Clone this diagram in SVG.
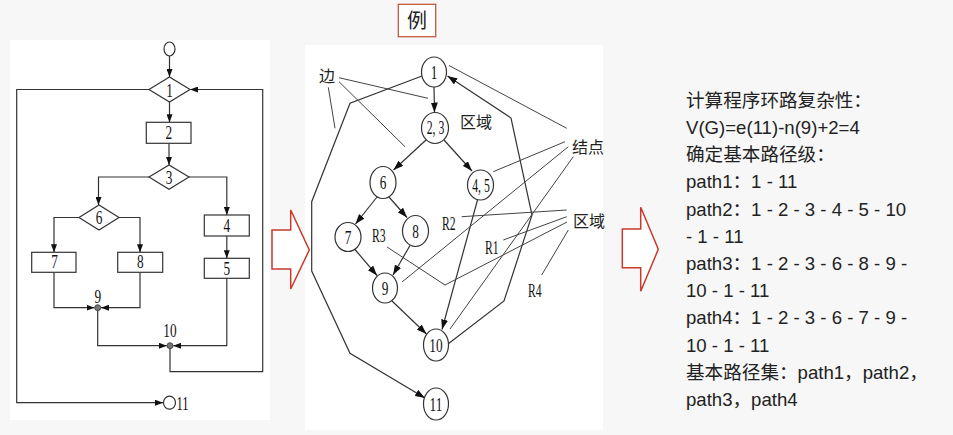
<svg xmlns="http://www.w3.org/2000/svg" width="953" height="435" viewBox="0 0 953 435">
<defs>
<style>
.bg{fill:#f7f7f7}
.panel{fill:#ffffff}
.ln{fill:none;stroke:#333;stroke-width:1.2}
.ptr{fill:none;stroke:#444;stroke-width:1}
.shp{fill:#fff;stroke:#333;stroke-width:1.2}
.dot{fill:#777;stroke:#333;stroke-width:0.8}
.lbl{font-family:"Liberation Serif",serif;font-size:19px;fill:#111;text-anchor:middle}
.lbs{font-family:"Liberation Serif",serif;font-size:18px;fill:#111}
.cjk{font-family:"Noto Sans CJK SC",sans-serif;font-size:16px;fill:#222}
.txt{font-family:"Liberation Sans","Noto Sans CJK SC",sans-serif;font-size:18.6px;fill:#222}
.red{fill:#fff;stroke:#c9392c;stroke-width:1.5}
</style>
<marker id="ah" viewBox="0 0 10 7" refX="10" refY="3.5" markerWidth="10" markerHeight="7" markerUnits="userSpaceOnUse" orient="auto">
<path d="M0,0 L10,3.5 L0,7 z" fill="#111"/>
</marker>
<marker id="as" viewBox="0 0 8 6" refX="8" refY="3" markerWidth="8" markerHeight="6" markerUnits="userSpaceOnUse" orient="auto">
<path d="M0,0 L8,3 L0,6 z" fill="#111"/>
</marker>
</defs>
<rect class="bg" x="0" y="0" width="953" height="435"/>
<rect class="panel" x="10" y="40" width="260" height="380"/>
<rect class="panel" x="305" y="45" width="298" height="385"/>

<!-- left flowchart connectors -->
<g id="flow-connectors">
<path class="ln" marker-end="url(#as)" d="M169.5,56 V77"/>
<path class="ln" marker-end="url(#as)" d="M169.5,102 V122.3"/>
<path class="ln" marker-end="url(#as)" d="M169,143.3 V165"/>
<path class="ln" marker-end="url(#as)" d="M149,177 H98.5 V205"/>
<path class="ln" marker-end="url(#as)" d="M189,177 H226.8 V215"/>
<path class="ln" marker-end="url(#as)" d="M79,217.5 H54 V252.3"/>
<path class="ln" marker-end="url(#as)" d="M119,217.5 H140 V252.3"/>
<path class="ln" marker-end="url(#as)" d="M226.8,236 V258.3"/>
<path class="ln" marker-end="url(#as)" d="M54,272.3 V307.7 H94.5"/>
<path class="ln" marker-end="url(#as)" d="M140,272.3 V307.7 H101"/>
<path class="ln" marker-end="url(#as)" d="M97.7,310.7 V345.7 H166.8"/>
<path class="ln" marker-end="url(#as)" d="M226.8,278.3 V345.7 H173.2"/>
<path class="ln" marker-end="url(#as)" d="M170,348.7 V371.7 H262.7 V89.5 H190"/>
<path class="ln" marker-end="url(#as)" d="M149,89.5 H16.7 V402.7 H163"/>
</g>

<!-- left flowchart nodes -->
<g id="f-start"><ellipse class="shp" cx="169.5" cy="49" rx="5.5" ry="7"/></g>
<g id="f-1"><polygon class="shp" points="149,89.5 169.5,77 190,89.5 169.5,102"/><text class="lbl" transform="translate(169.5,96.5) scale(0.7,1)">1</text></g>
<g id="f-2"><rect class="shp" x="146.3" y="122.3" width="44.7" height="21"/><text class="lbl" transform="translate(168.7,139) scale(0.7,1)">2</text></g>
<g id="f-3"><polygon class="shp" points="149,177 169,165 189,177 169,189.3"/><text class="lbl" transform="translate(169,184) scale(0.7,1)">3</text></g>
<g id="f-6"><polygon class="shp" points="79,217.5 99,205 119,217.5 99,230"/><text class="lbl" transform="translate(99,223.5) scale(0.7,1)">6</text></g>
<g id="f-7"><rect class="shp" x="31.7" y="252.3" width="44.3" height="20"/><text class="lbl" transform="translate(54.5,268.3) scale(0.7,1)">7</text></g>
<g id="f-8"><rect class="shp" x="117.7" y="252.3" width="45" height="20"/><text class="lbl" transform="translate(140.2,268.3) scale(0.7,1)">8</text></g>
<g id="f-4"><rect class="shp" x="204.3" y="215" width="45" height="21"/><text class="lbl" transform="translate(226.8,232) scale(0.7,1)">4</text></g>
<g id="f-5"><rect class="shp" x="204.3" y="258.3" width="45" height="20"/><text class="lbl" transform="translate(226.8,274.5) scale(0.7,1)">5</text></g>
<g id="f-9"><circle class="dot" cx="97.7" cy="307.7" r="3"/><text class="lbl" transform="translate(97.7,303) scale(0.7,1)">9</text></g>
<g id="f-10"><circle class="dot" cx="170" cy="345.7" r="3"/><text class="lbl" transform="translate(170,336.5) scale(0.7,1)">10</text></g>
<g id="f-11"><ellipse class="shp" cx="169.5" cy="402.7" rx="6" ry="6.5"/><text class="lbs" transform="translate(176.5,409.5) scale(0.7,1)">11</text></g>

<!-- red hollow arrows -->
<g id="arrow-a"><polygon class="red" points="272,230 290.7,230 290.7,210 309.3,250 290.7,289 290.7,269 272,269"/></g>
<g id="arrow-b"><polygon class="red" points="622.3,229 640.7,229 640.7,207.3 658.3,249.3 640.7,291.3 640.7,267.7 622.3,267.7"/></g>

<!-- title -->
<g id="title"><rect x="398.3" y="4.3" width="37.4" height="32.4" fill="#fff" stroke="#c55a3c" stroke-width="1.3"/><text class="cjk" x="417" y="28" text-anchor="middle" style="font-size:20px">例</text></g>

<!-- middle graph connectors -->
<g id="graph-connectors">
<path class="ln" marker-end="url(#ah)" d="M434,87 L434.5,112.5"/>
<path class="ln" marker-end="url(#ah)" d="M426,140 L393.5,170"/>
<path class="ln" marker-end="url(#ah)" d="M444,140 L472,171"/>
<path class="ln" marker-end="url(#ah)" d="M377,197 L355.5,224"/>
<path class="ln" marker-end="url(#ah)" d="M389,197 L407,217.5"/>
<path class="ln" marker-end="url(#ah)" d="M355,249.5 L377,275.5"/>
<path class="ln" marker-end="url(#ah)" d="M410,245.5 L393,275"/>
<path class="ln" marker-end="url(#ah)" d="M392,301 L426.5,334"/>
<path class="ln" marker-end="url(#ah)" d="M477.5,200 L442,329.5"/>
<path class="ln" marker-end="url(#ah)" d="M448,344 L504,301 L532,215 L511,118 L447.5,76"/>
<path class="ln" marker-end="url(#ah)" d="M422,76 L350,103.3 L311.7,201.7 L311.7,271 L350,353.3 L425,398"/>
</g>

<!-- annotation pointers -->
<g id="pointers">
<path class="ptr" d="M339,77.7 L428,98.3"/>
<path class="ptr" d="M339,81.7 L405,146.7"/>
<path class="ptr" d="M328.3,87.3 L335,128.3"/>
<path class="ptr" d="M566.7,128.3 L449,65.5"/>
<path class="ptr" d="M565,141.7 L493.3,171.7"/>
<path class="ptr" d="M568.3,146.7 L402,282"/>
<path class="ptr" d="M573.3,156.7 L450,329"/>
<path class="ptr" d="M566.7,210 L461.7,216.7"/>
<path class="ptr" d="M566.7,216.7 L503.3,240"/>
<path class="ptr" d="M567,222 L445,285 L387,247"/>
<path class="ptr" d="M568.3,230 L541.7,275"/>
</g>

<!-- middle graph nodes -->
<g id="g-1"><ellipse class="shp" cx="434" cy="72" rx="12.5" ry="15"/><text class="lbl" transform="translate(434,78.5) scale(0.7,1)">1</text></g>
<g id="g-23"><ellipse class="shp" cx="435" cy="128" rx="13.5" ry="15.5"/><text class="lbl" transform="translate(435.5,134) scale(0.62,1)">2, 3</text></g>
<g id="g-6"><ellipse class="shp" cx="383" cy="182.5" rx="13" ry="16"/><text class="lbl" transform="translate(383,189) scale(0.7,1)">6</text></g>
<g id="g-45"><ellipse class="shp" cx="480.5" cy="185" rx="13" ry="15"/><text class="lbl" transform="translate(481,191.5) scale(0.62,1)">4, 5</text></g>
<g id="g-7"><ellipse class="shp" cx="348" cy="237" rx="13" ry="14.5"/><text class="lbl" transform="translate(348,243.5) scale(0.7,1)">7</text></g>
<g id="g-8"><ellipse class="shp" cx="415.5" cy="231" rx="13" ry="15.5"/><text class="lbl" transform="translate(415.5,237.5) scale(0.7,1)">8</text></g>
<g id="g-9"><ellipse class="shp" cx="385" cy="288" rx="12.5" ry="15"/><text class="lbl" transform="translate(385,294.5) scale(0.7,1)">9</text></g>
<g id="g-10"><ellipse class="shp" cx="436" cy="345" rx="12.5" ry="16"/><text class="lbl" transform="translate(436,351.5) scale(0.7,1)">10</text></g>
<g id="g-11"><ellipse class="shp" cx="436" cy="404" rx="12.5" ry="16"/><text class="lbl" transform="translate(436,410.5) scale(0.7,1)">11</text></g>

<!-- middle annotations -->
<g id="annotations">
<text class="cjk" x="319" y="82">边</text>
<text class="cjk" x="460" y="128">区域</text>
<text class="cjk" x="572" y="153">结点</text>
<text class="cjk" x="573" y="227">区域</text>
<text class="lbs" transform="translate(372,242) scale(0.65,1)">R3</text>
<text class="lbs" transform="translate(442,230) scale(0.65,1)">R2</text>
<text class="lbs" transform="translate(485,254) scale(0.65,1)">R1</text>
<text class="lbs" transform="translate(528,296.5) scale(0.65,1)">R4</text>
</g>

<!-- right text -->
<g id="notes">
<text class="txt" x="686" y="106.7">计算程序环路复杂性：</text>
<text class="txt" x="686" y="133.9">V(G)=e(11)-n(9)+2=4</text>
<text class="txt" x="686" y="161.1">确定基本路径级：</text>
<text class="txt" x="686" y="188.3">path1：1 - 11</text>
<text class="txt" x="686" y="215.5">path2：1 - 2 - 3 - 4 - 5 - 10</text>
<text class="txt" x="686" y="242.7">- 1 - 11</text>
<text class="txt" x="686" y="269.9">path3：1 - 2 - 3 - 6 - 8 - 9 -</text>
<text class="txt" x="686" y="297.1">10 - 1 - 11</text>
<text class="txt" x="686" y="324.3">path4：1 - 2 - 3 - 6 - 7 - 9 -</text>
<text class="txt" x="686" y="351.5">10 - 1 - 11</text>
<text class="txt" x="686" y="378.7">基本路径集：path1，path2，</text>
<text class="txt" x="686" y="405.9">path3，path4</text>
</g>
</svg>
